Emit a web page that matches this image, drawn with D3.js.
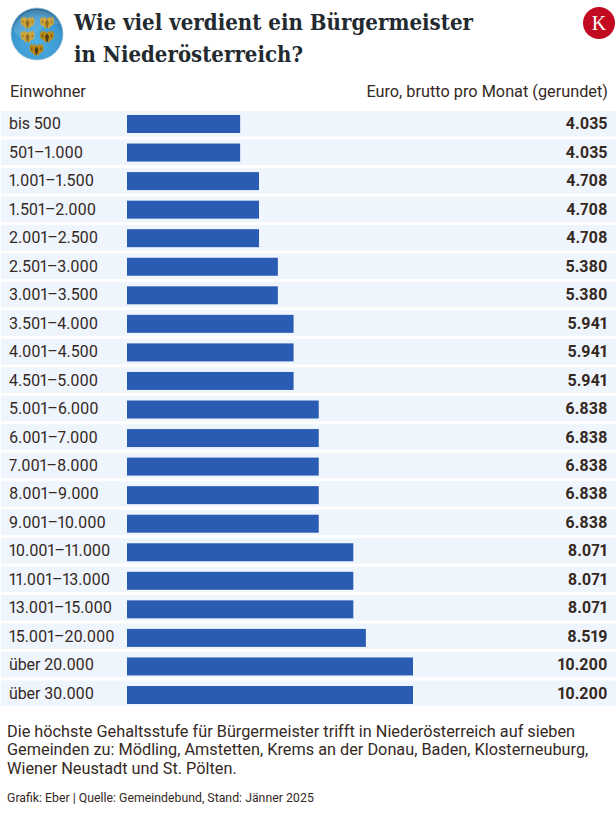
<!DOCTYPE html>
<html><head><meta charset="utf-8">
<script src="https://cdnjs.cloudflare.com/ajax/libs/d3/7.8.5/d3.min.js"></script>
<style>html,body{margin:0;padding:0;background:#fff}svg{display:block}text{font-family:Roboto,sans-serif;fill:#35291f;font-feature-settings:"pnum" 1;font-variant-numeric:proportional-nums}</style>
</head><body><svg id="c" width="616" height="821"></svg>
<script>
const categories=["bis 500","501–1.000","1.001–1.500","1.501–2.000","2.001–2.500","2.501–3.000","3.001–3.500","3.501–4.000","4.001–4.500","4.501–5.000","5.001–6.000","6.001–7.000","7.001–8.000","8.001–9.000","9.001–10.000","10.001–11.000","11.001–13.000","13.001–15.000","15.001–20.000","über 20.000","über 30.000"];
const values=[4035,4035,4708,4708,4708,5380,5380,5941,5941,5941,6838,6838,6838,6838,6838,8071,8071,8071,8519,10200,10200];
const titleLines=["Wie viel verdient ein Bürgermeister","in Niederösterreich?"];
const noteLines=["Die höchste Gehaltsstufe für Bürgermeister trifft in Niederösterreich auf sieben","Gemeinden zu: Mödling, Amstetten, Krems an der Donau, Baden, Klosterneuburg,","Wiener Neustadt und St. Pölten."];
const source="Grafik: Eber | Quelle: Gemeindebund, Stand: Jänner 2025";
const svg=d3.select("#c");
const fmt=d3.formatLocale({decimal:",",thousands:".",grouping:[3],currency:["","€"]}).format(",d");
const x=d3.scaleLinear().domain([0,10200]).range([127,413]);
const y=d3.scaleBand().domain(categories).range([111,706]).paddingInner(0.105).paddingOuter(0);
const yBar=d3.scaleBand().domain(categories).range([115,704]).paddingInner(0.37).paddingOuter(0);
const defs=svg.append("defs");
const g=defs.append("radialGradient").attr("id","ball").attr("cx","50%").attr("cy","65%").attr("r","62%");
g.append("stop").attr("offset","0").attr("stop-color","#4fb2e4");
g.append("stop").attr("offset","0.75").attr("stop-color","#3b98cf");
g.append("stop").attr("offset","1").attr("stop-color","#2a6f9c");
svg.selectAll("text.title").data(titleLines).join("text").attr("class","title").attr("x",74).attr("y",(d,i)=>[30,62][i])
 .attr("font-size",23).style("font-family","'DejaVu Serif',serif").style("fill","#232a30").style("font-weight",700)
 .attr("textLength",(d,i)=>[399,229][i]).attr("lengthAdjust","spacingAndGlyphs").text(d=>d);
const em=svg.append("g");
em.append("circle").attr("cx",37).attr("cy",34).attr("r",26).attr("fill","url(#ball)").attr("stroke","#9cc4da").attr("stroke-width",.8);
em.append("path").attr("d","M13 30 A25 25 0 0 1 60 24 Q42 24 34 36 Q22 42 13 30Z").attr("fill","#fff").attr("opacity",.12);
[[27.5,22.5],[47,22.5],[27.5,36.5],[47,36.5],[36.5,49.5]].forEach(([cx,cy],i)=>{
 const dark=i===3||i===4;
 const e=em.append("g").attr("transform",`translate(${cx},${cy})`);
 e.append("path").attr("d","M-3 -6 L0 -3.5 L3 -6 L3.5 -3 L1.5 -1 L5 -6 L7 -3 L6.5 2 L3 4 L2 6.5 L0 4.5 L-2 6.5 L-3 4 L-6.5 2 L-7 -3 L-5 -6 L-1.5 -1 L-3.5 -3Z").attr("fill",dark?"#b98a16":"#d0a63c");
 e.append("path").attr("d","M0 -3 L2 0 L1 4 L0 6 L-1 4 L-2 0Z M-4.5 -3 L-4 1 L-5.5 0Z M4.5 -3 L4 1 L5.5 0Z").attr("fill",dark?"#4f3d10":"#8d6f25");
});
svg.append("circle").attr("cx",599).attr("cy",23).attr("r",16).attr("fill","#c20b20");
svg.append("text").attr("x",599).attr("y",30).attr("text-anchor","middle").attr("font-size",20).style("font-family","'Liberation Serif',serif").style("fill","#fff").text("K");
svg.append("text").attr("x",10).attr("y",97).attr("font-size",16.3).text("Einwohner");
svg.append("text").attr("x",608).attr("y",97).attr("text-anchor","end").attr("font-size",16.3).text("Euro, brutto pro Monat (gerundet)");
const data=categories.map((c,i)=>({c,v:values[i]}));
svg.selectAll("rect.bg").data(data).join("rect").attr("class","bg").attr("x",1).attr("width",615).attr("y",d=>y(d.c)).attr("height",y.bandwidth()).attr("fill","#eff5fd");
svg.selectAll("rect.bar").data(data).join("rect").attr("class","bar").attr("x",x(0)).attr("width",d=>x(d.v)-x(0)).attr("y",d=>yBar(d.c)).attr("height",yBar.bandwidth()).attr("fill","#2b5cb3");
svg.selectAll("text.cat").data(data).join("text").attr("class","cat").attr("x",9).attr("y",d=>y(d.c)+18.3).attr("font-size",16).attr("letter-spacing",-0.1).text(d=>d.c);
svg.selectAll("text.val").data(data).join("text").attr("class","val").attr("x",607.5).attr("y",d=>y(d.c)+18.3).attr("text-anchor","end").attr("font-size",16).attr("font-weight",700).text(d=>fmt(d.v));
svg.selectAll("text.note").data(noteLines).join("text").attr("class","note").attr("x",7).attr("y",(d,i)=>736.5+i*18.7).attr("font-size",16.3).text(d=>d);
svg.append("text").attr("x",7).attr("y",802).attr("font-size",12.3).text(source);
</script></body></html>
